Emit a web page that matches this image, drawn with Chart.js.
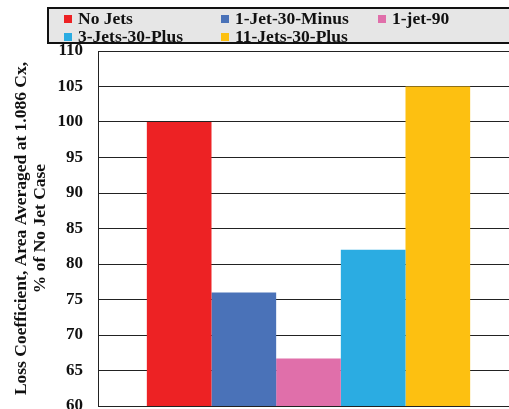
<!DOCTYPE html>
<html>
<head>
<meta charset="utf-8">
<script src="https://cdn.jsdelivr.net/npm/chart.js@4"></script>
<style>
  html, body { margin: 0; padding: 0; width: 509px; height: 409px; overflow: hidden; background: #fff; }
  #wrap { position: absolute; left: 0; top: 0; width: 540px; height: 432px; }
  #legend {
    position: absolute; left: 47px; top: 7px; width: 520px; height: 33px;
    background: #e6e6e6; border: 2px solid #111; box-sizing: content-box;
    font: bold 17.5px "Liberation Serif", "Times New Roman", serif; color: #111;
  }
  .item { position: absolute; height: 18px; line-height: 18px; white-space: nowrap; }
  .item span.sw { display: inline-block; width: 8px; height: 8px; margin-right: 6px; vertical-align: 1px; }
</style>
</head>
<body>
<div id="wrap"><canvas id="chart" width="540" height="432"></canvas></div>
<div id="legend"></div>
<script>
// Data
const categories = [''];
const seriesNames = ['No Jets', '1-Jet-30-Minus', '1-jet-90', '3-Jets-30-Plus', '11-Jets-30-Plus'];
const seriesValues = [100, 76, 66.7, 82, 105];
const seriesColors = ['#ED2224', '#4A72B8', '#E06FAA', '#2BACE2', '#FDC011'];
const yMin = 60;
const yMax = 110;
const yStep = 5;
const yTitle = ['Loss Coefficient, Area Averaged at 1.086 Cx,', '% of No Jet Case'];

// Legend (drawn as html box like the original)
const legend = document.getElementById('legend');
seriesNames.forEach((name, i) => {
  const item = document.createElement('div');
  item.className = 'item';
  item.style.left = (15 + (i % 3) * 157) + 'px';
  item.style.top = (i < 3 ? 0 : 18) + 'px';
  item.innerHTML = '<span class="sw" style="background:' + seriesColors[i] + '"></span>' + name;
  legend.appendChild(item);
});

const serif = '"Liberation Serif", "Times New Roman", serif';
const ctx = document.getElementById('chart').getContext('2d');
const chart = new Chart(ctx, {
  type: 'bar',
  data: {
    labels: categories,
    datasets: seriesNames.map((name, i) => ({
      label: name,
      data: [seriesValues[i]],
      backgroundColor: seriesColors[i],
      borderWidth: 0
    }))
  },
  options: {
    responsive: false,
    animation: false,
    categoryPercentage: 0.768,
    barPercentage: 1,
    layout: { padding: { top: 51, right: 21, bottom: 26, left: 0 } },
    plugins: { legend: { display: false }, tooltip: { enabled: false } },
    scales: {
      x: { display: false },
      y: {
        min: yMin,
        max: yMax,
        ticks: {
          stepSize: yStep,
          padding: 15,
          color: '#111',
          font: { family: serif, size: 17, weight: 'bold' }
        },
        grid: { color: '#222', lineWidth: 1, drawTicks: false },
        border: { color: '#222', width: 1 },
        title: {
          display: true,
          text: yTitle,
          color: '#111',
          padding: { top: 12, bottom: 0 },
          font: { family: serif, size: 17.5, weight: 'bold', lineHeight: 1.1 }
        },
        afterFit: scale => { scale.width = 98; }
      }
    }
  }
});
</script>
</body>
</html>
